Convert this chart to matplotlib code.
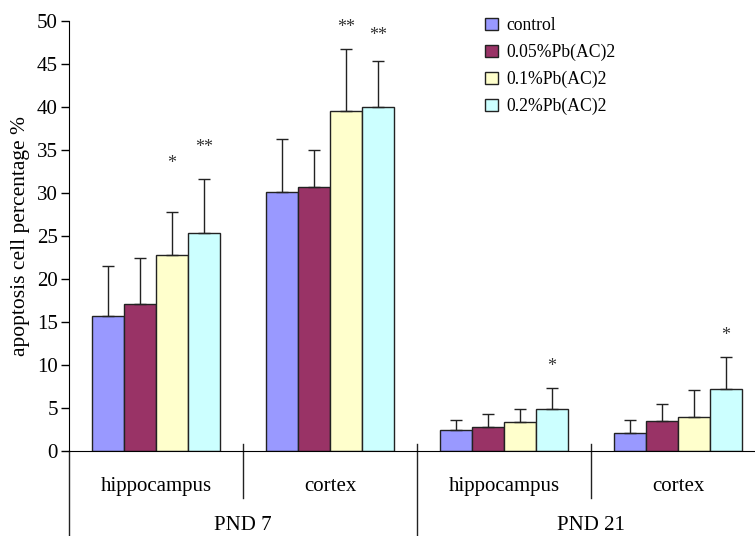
import matplotlib.pyplot as plt
import numpy as np

plt.rcParams['font.family'] = ['Liberation Serif', 'DejaVu Serif']

regions = ['hippocampus', 'cortex', 'hippocampus', 'cortex']
ages = ['PND 7', 'PND 21']
series = ['control', '0.05%Pb(AC)2', '0.1%Pb(AC)2', '0.2%Pb(AC)2']
colors = ['#9999FF', '#993366', '#FFFFCC', '#CCFFFF']

# mean values per series, in region order
means = [
    [15.75, 30.15, 2.5, 2.15],
    [17.05, 30.65, 2.8, 3.5],
    [22.75, 39.55, 3.4, 3.95],
    [25.4, 39.95, 4.95, 7.25],
]
# upper error (SD)
errs = [
    [5.75, 6.1, 1.15, 1.5],
    [5.35, 4.35, 1.5, 2.05],
    [5.0, 7.15, 1.55, 3.15],
    [6.25, 5.35, 2.45, 3.7],
]
# significance marks: (region index, series index, label, y)
marks = [
    (0, 2, '*', 33.4),
    (0, 3, '**', 35.3),
    (1, 2, '**', 49.2),
    (1, 3, '**', 48.3),
    (2, 3, '*', 9.9),
    (3, 3, '*', 13.5),
]

fig = plt.figure(figsize=(7.55, 5.36), dpi=100)
ax = fig.add_axes([69 / 755, 0.158, 696 / 755, 0.8034])

x = np.arange(len(regions)) + 0.5
w = 0.184
for i, name in enumerate(series):
    pos = x + (i - 1.5) * w
    ax.bar(pos, means[i], w, color=colors[i], edgecolor='#222222',
           linewidth=1, label=name, zorder=2)
    ax.errorbar(pos, means[i], yerr=[np.zeros(len(regions)), errs[i]],
                fmt='none', ecolor='#222222', elinewidth=1, capsize=4,
                capthick=1, zorder=3)

for r, s, lab, yv in marks:
    ax.text(x[r] + (s - 1.5) * w, yv, lab, ha='center', va='center',
            fontsize=13, color='#333333')

ax.set_xlim(0, 4)
ax.set_ylim(0, 50)
ax.set_yticks(np.arange(0, 51, 5))
ax.tick_params(axis='y', direction='out', length=6, labelsize=15, width=1,
               pad=2)
ax.set_xticks([])
ax.spines['top'].set_visible(False)
ax.spines['right'].set_visible(False)
ax.set_ylabel('apoptosis cell percentage %', fontsize=15.5, labelpad=5)

tr = ax.get_xaxis_transform()
# category separators
for xs in [1, 3]:
    ax.plot([xs, xs], [0.016, -0.108], color='#222222', lw=1,
            transform=tr, clip_on=False)
for xs in [0, 2]:
    ax.plot([xs, xs], [0.016 if xs else 0, -0.3], color='#222222', lw=1,
            transform=tr, clip_on=False)
for xi, lab in zip(x, regions):
    ax.text(xi, -0.081, lab, ha='center', va='center', fontsize=15,
            transform=tr)
for k, lab in enumerate(ages):
    ax.text(1 + 2 * k, -0.194, lab, ha='center', va='bottom', fontsize=15,
            transform=tr)

ax.legend(loc='upper left', bbox_to_anchor=(0.575, 1.045), frameon=False,
          fontsize=12.7, handlelength=0.75, handleheight=0.75,
          handletextpad=0.45, labelspacing=0.55)

fig.savefig('out.png', dpi=100)
